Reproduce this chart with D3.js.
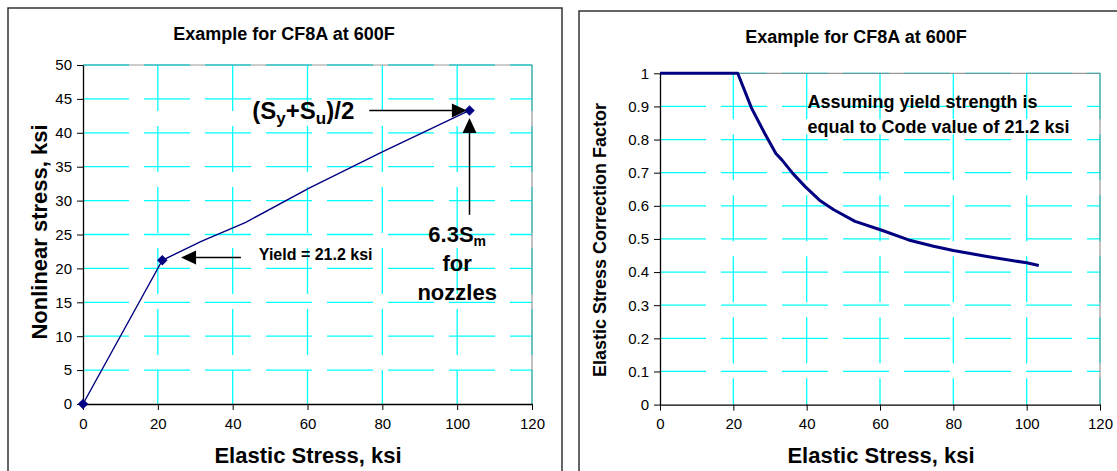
<!DOCTYPE html>
<html><head><meta charset="utf-8">
<script src="https://cdn.jsdelivr.net/npm/d3@7"></script>
<style>
body{margin:0;background:#fff;}
svg{display:block;font-family:"Liberation Sans",Arial,sans-serif;}
</style></head>
<body>
<svg id="c" width="1117" height="471"></svg>
<script>
// ---- data ----
const chartTitle = "Example for CF8A at 600F";
const xTicks = [0, 20, 40, 60, 80, 100, 120];
const leftYTicks = [0, 5, 10, 15, 20, 25, 30, 35, 40, 45, 50];
const rightYTicks = [0, 0.1, 0.2, 0.3, 0.4, 0.5, 0.6, 0.7, 0.8, 0.9, 1];
// left chart: nonlinear stress vs elastic stress
const leftX = [0, 21.2, 31.6, 43.5, 60.3, 80, 103.3];
const leftY = [0, 21.2, 24.0, 26.8, 31.8, 37.2, 43.3];
const markerX = [0, 21.2, 103.3];
const markerY = [0, 21.2, 43.3];
// right chart: correction factor vs elastic stress
const rightX = [0, 21.2, 25.0, 28.5, 31.6, 33.3, 36.2, 39.6, 43.5, 47.4, 53.2, 60.3, 67.8, 74.6, 80, 89.2, 100, 103.3];
const rightY = [1, 1, 0.894, 0.82, 0.758, 0.738, 0.698, 0.658, 0.617, 0.588, 0.553, 0.527, 0.497, 0.478, 0.465, 0.447, 0.428, 0.42];

const svg = d3.select("#c");
svg.append("rect").attr("width",1117).attr("height",471).attr("fill","#fff");

// chart boxes
svg.append("rect").attr("x",8).attr("y",8).attr("width",554).attr("height",480)
  .attr("fill","none").attr("stroke","#333").attr("stroke-width",1.5);
svg.append("rect").attr("x",579).attr("y",11).attr("width",560).attr("height",480)
  .attr("fill","none").attr("stroke","#333").attr("stroke-width",1.5);

function drawFrame(g, x, y, yTicks, yFmt){
  const [x0,x1] = x.range(); const [y0,y1] = y.range();
  g.selectAll(".hg").data(yTicks.filter(d=>d>0)).enter().append("line")
    .attr("x1",x0).attr("x2",x1).attr("y1",d=>y(d)).attr("y2",d=>y(d))
    .attr("stroke","#00ffff").attr("stroke-width",1.3).attr("stroke-dasharray","46,15");
  g.selectAll(".vg").data(xTicks.filter(d=>d>0)).enter().append("line")
    .attr("x1",d=>x(d)).attr("x2",d=>x(d)).attr("y1",y1).attr("y2",y0)
    .attr("stroke","#00ffff").attr("stroke-width",1.3).attr("stroke-dasharray","46,15");
  g.append("path").attr("d",`M${x0},${y1}H${x1}V${y0}`).attr("fill","none")
    .attr("stroke","#808080").attr("stroke-width",1.2).attr("opacity",0.8);
  const ax = g.append("g").attr("transform",`translate(0,${y0})`)
    .call(d3.axisBottom(x).tickValues(xTicks).tickSize(6).tickSizeOuter(0).tickPadding(8));
  const ay = g.append("g").attr("transform",`translate(${x0},0)`)
    .call(d3.axisLeft(y).tickValues(yTicks).tickFormat(yFmt).tickSize(6).tickSizeOuter(0).tickPadding(5));
  [ax,ay].forEach(a=>{
    a.select(".domain").attr("stroke","#000").attr("stroke-width",1.3);
    a.selectAll(".tick line").attr("stroke","#000");
    a.selectAll("text").attr("font-size",15).attr("fill","#000")
      .attr("font-family","Liberation Sans, Arial, sans-serif");
  });
}

function arrow(g, x1, y1, x2, y2){
  const ang = Math.atan2(y2-y1, x2-x1), L=15, W=7;
  const bx = x2 - L*Math.cos(ang), by = y2 - L*Math.sin(ang);
  g.append("line").attr("x1",x1).attr("y1",y1).attr("x2",bx).attr("y2",by)
    .attr("stroke","#000").attr("stroke-width",1.5);
  const px = -Math.sin(ang)*W, py = Math.cos(ang)*W;
  g.append("path").attr("d",`M${x2},${y2}L${bx+px},${by+py}L${bx-px},${by-py}Z`).attr("fill","#000");
}

// ---------- LEFT CHART ----------
const xL = d3.scaleLinear().domain([0,120]).range([83,532]);
const yL = d3.scaleLinear().domain([0,50]).range([404,65]);
const gL = svg.append("g");
drawFrame(gL, xL, yL, leftYTicks, d3.format("d"));

gL.append("text").attr("x",284).attr("y",40).attr("text-anchor","middle")
  .attr("font-size",18).attr("font-weight","bold").text(chartTitle);
gL.append("text").attr("x",308).attr("y",463).attr("text-anchor","middle")
  .attr("font-size",22).attr("font-weight","bold").text("Elastic Stress, ksi");
gL.append("text").attr("transform","translate(47,232) rotate(-90)").attr("text-anchor","middle")
  .attr("font-size",22).attr("font-weight","bold").text("Nonlinear stress, ksi");

const lineL = d3.line().x(i=>xL(leftX[i])).y(i=>yL(leftY[i]));
gL.append("path").attr("d",lineL(d3.range(leftX.length))).attr("fill","none")
  .attr("stroke","#000080").attr("stroke-width",1.4);
gL.selectAll(".mk").data(d3.range(markerX.length)).enter().append("path")
  .attr("transform",i=>`translate(${xL(markerX[i])},${yL(markerY[i])})`)
  .attr("d",d3.symbol().type(d3.symbolDiamond2).size(70)).attr("fill","#000080");

// annotations (left)
arrow(gL, xL(76.5), yL(43.3), xL(102.6), yL(43.3));
arrow(gL, xL(103.3), yL(27.9), xL(103.3), yL(42.2));
arrow(gL, xL(42.2), yL(21.6), xL(26.2), yL(21.6));

const t1 = gL.append("text").attr("x",xL(72.5)).attr("y",yL(42.0)).attr("text-anchor","end")
  .attr("font-size",24).attr("font-weight","bold");
t1.append("tspan").text("(S");
t1.append("tspan").attr("font-size",17).attr("dy",5).text("y");
t1.append("tspan").attr("dy",-5).text("+S");
t1.append("tspan").attr("font-size",17).attr("dy",5).text("u");
t1.append("tspan").attr("dy",-5).text(")/2");

const t2 = gL.append("text").attr("x",xL(100)).attr("y",yL(23.9)).attr("text-anchor","middle")
  .attr("font-size",22).attr("font-weight","bold");
t2.append("tspan").text("6.3S");
t2.append("tspan").attr("font-size",14).attr("dy",4).text("m");
gL.append("text").attr("x",xL(100)).attr("y",yL(19.6)).attr("text-anchor","middle")
  .attr("font-size",22).attr("font-weight","bold").text("for");
gL.append("text").attr("x",xL(100)).attr("y",yL(15.3)).attr("text-anchor","middle")
  .attr("font-size",22).attr("font-weight","bold").text("nozzles");
gL.append("text").attr("x",xL(47)).attr("y",yL(21.3))
  .attr("font-size",16).attr("font-weight","bold").text("Yield = 21.2 ksi");

// ---------- RIGHT CHART ----------
const xR = d3.scaleLinear().domain([0,120]).range([660,1100]);
const yR = d3.scaleLinear().domain([0,1]).range([404.6,73.3]);
const gR = svg.append("g");
drawFrame(gR, xR, yR, rightYTicks, d=>d3.format("")(+d.toFixed(1)));

gR.append("text").attr("x",856).attr("y",43).attr("text-anchor","middle")
  .attr("font-size",18).attr("font-weight","bold").text(chartTitle);
gR.append("text").attr("x",881).attr("y",463).attr("text-anchor","middle")
  .attr("font-size",22).attr("font-weight","bold").text("Elastic Stress, ksi");
gR.append("text").attr("transform","translate(606,240) rotate(-90)").attr("text-anchor","middle")
  .attr("font-size",18).attr("font-weight","bold").text("Elastic Stress Correction Factor");

const lineR = d3.line().x(i=>xR(rightX[i])).y(i=>yR(rightY[i]));
gR.append("path").attr("d",lineR(d3.range(rightX.length))).attr("fill","none")
  .attr("stroke","#000080").attr("stroke-width",3).attr("stroke-linejoin","round");

gR.append("text").attr("x",xR(40.2)).attr("y",yR(0.895))
  .attr("font-size",18).attr("font-weight","bold").text("Assuming yield strength is");
gR.append("text").attr("x",xR(40.2)).attr("y",yR(0.819))
  .attr("font-size",18).attr("font-weight","bold").text("equal to Code value of 21.2 ksi");
</script>
</body></html>
